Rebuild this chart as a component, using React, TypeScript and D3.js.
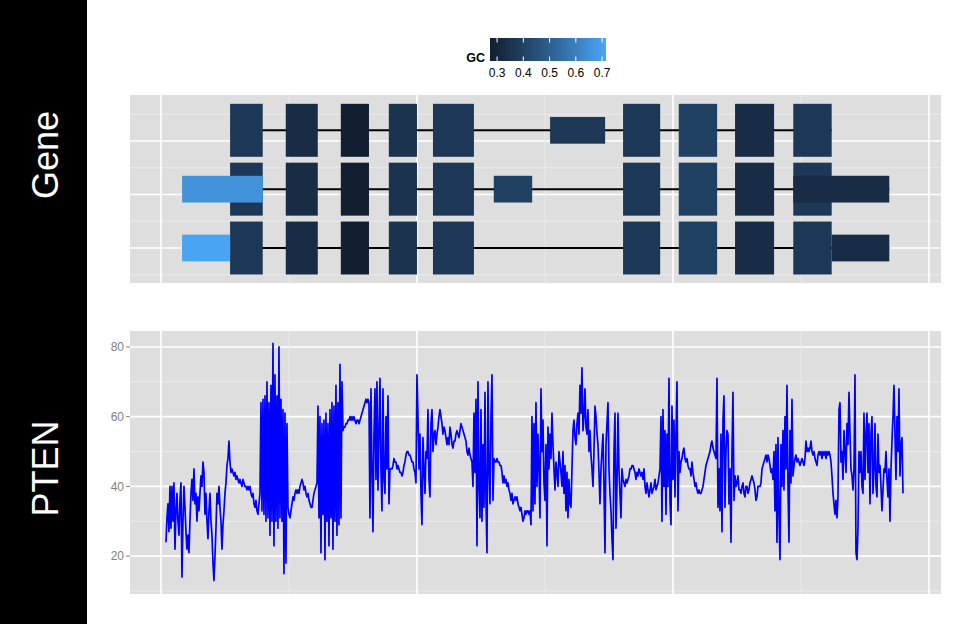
import React from 'react';
import * as d3 from 'd3';

// ---------- data ----------
// coverage / GC-content track values (%), one reading per step from start to end
const coverage: number[] = [
  24, 31, 35, 27, 40, 28, 40, 30, 41, 22,
  33, 38, 30, 26, 36, 41, 14, 30, 40, 34,
  27, 22, 26, 21, 30, 38, 42, 36, 45, 35,
  38, 30, 37, 33, 38, 43, 40, 47, 44, 32,
  38, 30, 25, 33, 38, 30, 26, 18, 13, 20,
  28, 38, 35, 40, 34, 30, 22, 29, 33, 38,
  41, 46, 48, 53, 47, 44, 45, 44, 43, 44,
  42, 43, 42, 41, 42, 41, 40, 42, 41, 40,
  40, 39, 40, 39, 40, 38, 37, 38, 35, 34,
  36, 33, 32, 35, 38, 64, 33, 65, 32, 66,
  30, 70, 31, 64, 26, 69, 30, 81, 23, 72,
  30, 66, 28, 80, 31, 65, 30, 62, 15, 61,
  18, 58, 34, 32, 31, 33, 35, 37, 36, 38,
  39, 38, 39, 38, 40, 41, 42, 41, 39, 40,
  38, 37, 38, 36, 35, 34, 34, 36, 38, 39,
  40, 41, 63, 31, 60, 21, 58, 32, 59, 19,
  61, 30, 58, 23, 62, 31, 64, 22, 63, 30,
  69, 26, 64, 29, 75, 31, 70, 56, 57, 57,
  58, 58, 59, 59, 60, 59, 60, 59, 60, 59,
  58, 59, 59, 58, 59, 60, 61, 62, 63, 64,
  65, 64, 65, 64, 31, 68, 45, 27, 55, 68,
  42, 70, 39, 55, 71, 45, 33, 68, 42, 38,
  60, 45, 66, 35, 45, 45, 45, 46, 48, 47,
  47, 45, 46, 45, 44, 44, 43, 44, 46, 47,
  49, 50, 50, 49, 49, 48, 47, 47, 45, 44,
  41, 72, 60, 45, 55, 38, 29, 54, 45, 38,
  50, 48, 62, 42, 37, 58, 62, 50, 55, 56,
  52, 55, 57, 60, 62, 60, 58, 55, 57, 56,
  54, 52, 54, 52, 57, 55, 52, 51, 53, 53,
  55, 56, 55, 54, 56, 58, 57, 56, 55, 54,
  53, 50, 49, 51, 49, 48, 47, 40, 61, 44,
  65, 23, 70, 40, 31, 62, 30, 52, 34, 67,
  36, 21, 70, 45, 35, 60, 72, 36, 48, 47,
  47, 48, 47, 47, 46, 46, 44, 41, 43, 41,
  42, 40, 41, 39, 38, 36, 38, 35, 36, 37,
  36, 37, 35, 34, 33, 34, 32, 30, 31, 33,
  32, 33, 33, 32, 33, 29, 60, 33, 58, 35,
  64, 40, 55, 45, 31, 68, 50, 59, 41, 36,
  52, 23, 57, 45, 55, 48, 61, 52, 45, 39,
  47, 44, 40, 50, 47, 44, 40, 50, 38, 46,
  33, 44, 31, 42, 35, 34, 45, 56, 59, 54,
  52, 58, 61, 55, 69, 61, 74, 56, 60, 68,
  57, 55, 62, 50, 56, 49, 45, 40, 50, 63,
  60, 55, 52, 44, 35, 45, 50, 55, 40, 21,
  52, 58, 64, 45, 38, 33, 25, 19, 50, 61,
  28, 40, 61, 45, 38, 31, 45, 42, 41, 40,
  42, 41, 42, 43, 45, 45, 46, 46, 45, 44,
  42, 44, 43, 45, 44, 43, 44, 42, 45, 40,
  38, 41, 39, 37, 39, 41, 38, 39, 40, 42,
  39, 40, 41, 43, 45, 60, 30, 62, 40, 56,
  32, 55, 40, 71, 36, 29, 63, 42, 59, 37,
  55, 70, 33, 50, 44, 47, 48, 50, 51, 48,
  47, 48, 46, 45, 45, 43, 47, 44, 42, 40,
  41, 39, 38, 39, 38, 38, 39, 40, 42, 44,
  46, 47, 48, 49, 50, 52, 53, 51, 50, 49,
  48, 71, 34, 45, 33, 55, 27, 59, 66, 34,
  50, 56, 55, 35, 45, 24, 50, 67, 36, 43,
  40, 41, 43, 39, 39, 38, 40, 41, 38, 37,
  40, 40, 38, 39, 41, 42, 43, 42, 41, 39,
  36, 37, 40, 40, 40, 41, 45, 46, 47, 48,
  49, 47, 49, 48, 46, 44, 45, 42, 50, 33,
  52, 24, 54, 32, 19, 52, 40, 56, 39, 60,
  45, 69, 40, 24, 56, 41, 65, 43, 46, 48,
  49, 47, 48, 47, 46, 47, 48, 47, 46, 48,
  53, 50, 51, 50, 51, 53, 50, 49, 50, 48,
  47, 46, 49, 50, 49, 50, 48, 50, 49, 50,
  48, 50, 49, 50, 49, 47, 43, 38, 35, 32,
  36, 31, 37, 62, 64, 47, 50, 42, 56, 50,
  44, 58, 52, 67, 55, 45, 43, 39, 45, 72,
  21, 19, 28, 50, 44, 50, 40, 38, 61, 42,
  55, 61, 44, 58, 35, 55, 60, 38, 45, 58,
  40, 37, 55, 44, 46, 40, 33, 39, 45, 44,
  50, 42, 37, 45, 30, 45, 53, 60, 69, 55,
  42, 60, 50, 68, 43, 52, 54, 38,
];
// genomic span of the coverage track (kb from a reference origin)
const covStartKb = 0.78;
const covEndKb = 115.94;

// axes
const covTicks = [20, 40, 60, 80];
const covMinor = [10, 30, 50, 70];
const xMajor = [0, 40, 80, 120];
const xMinor = [20, 60, 100];
const geneMajor = [1, 2, 3];
const geneMinor = [0.5, 1.5, 2.5, 3.5];

// transcripts (stacking level, start, end in kb)
const txLevel = [3.2, 2.1, 1.0];
const txStart = [10.8, 3.3, 3.3];
const txEnd = [104.8, 113.8, 113.8];

// exon features: transcript index, start, end (kb), kind, GC content
const featTx = [
  0, 0, 0, 0, 0, 0, 0, 0, 0, 0,
  1, 1, 1, 1, 1, 1, 1, 1, 1, 1, 1, 1,
  2, 2, 2, 2, 2, 2, 2, 2, 2, 2, 2,
];
const featStart = [
  10.8, 19.5, 28.1, 35.6, 42.5, 60.8, 72.2, 80.9, 89.7, 98.8,
  10.8, 19.5, 28.1, 35.6, 42.5, 52.0, 72.2, 80.9, 89.7, 98.8, 3.3, 98.8,
  10.8, 19.5, 28.1, 35.6, 42.5, 72.2, 80.9, 89.7, 98.8, 3.3, 104.8,
];
const featEnd = [
  15.9, 24.5, 32.5, 40.0, 48.9, 69.4, 78.0, 86.9, 95.8, 104.8,
  15.9, 24.5, 32.5, 40.0, 48.9, 58.0, 78.0, 86.9, 95.8, 104.8, 15.9, 113.8,
  15.9, 24.5, 32.5, 40.0, 48.9, 78.0, 86.9, 95.8, 104.8, 10.8, 113.8,
];
const featKind = [
  'cds', 'cds', 'cds', 'cds', 'cds', 'utr', 'cds', 'cds', 'cds', 'cds',
  'cds', 'cds', 'cds', 'cds', 'cds', 'utr', 'cds', 'cds', 'cds', 'cds', 'utr', 'utr',
  'cds', 'cds', 'cds', 'cds', 'cds', 'cds', 'cds', 'cds', 'cds', 'utr', 'utr',
];
const featGC = [
  0.37, 0.33, 0.275, 0.35, 0.37, 0.37, 0.37, 0.40, 0.33, 0.37,
  0.37, 0.33, 0.275, 0.35, 0.37, 0.40, 0.37, 0.40, 0.33, 0.37, 0.66, 0.33,
  0.37, 0.33, 0.275, 0.35, 0.37, 0.37, 0.40, 0.33, 0.37, 0.71, 0.33,
];

const gcLimits = [0.273, 0.715];
const gcTicks = [0.3, 0.4, 0.5, 0.6, 0.7];
const gcColors = ['#111e2f', '#4aa6f7'];

const trackLabels = ['Gene', 'PTEN'];

// ---------- layout ----------
const W = 960;
const H = 624;
const PANEL_L = 130;
const PANEL_R = 941;
const GENE_T = 95;
const GENE_B = 283;
const COV_T = 331;
const COV_B = 594;
const BG = '#dedede';
const MINOR = '#ebebeb';
const FONT = '"Liberation Sans", Arial, Helvetica, sans-serif';

export default function App() {
  const x = d3.scaleLinear().domain([-4.84, 121.88]).range([PANEL_L, PANEL_R]);
  const yGene = d3.scaleLinear().domain([0.346, 3.86]).range([GENE_B, GENE_T]);
  const yCov = d3.scaleLinear().domain([9.14, 84.57]).range([COV_B, COV_T]);
  const color = d3
    .scaleLinear<string>()
    .domain(gcLimits)
    .range(gcColors)
    .interpolate(d3.interpolateLab);

  const n = coverage.length;
  const step = (covEndKb - covStartKb) / (n - 1);
  const line = d3
    .line<number>()
    .x((_, i) => x(covStartKb + i * step))
    .y((d) => yCov(d));

  const featIdx = d3.range(featTx.length);
  const cdsIdx = featIdx.filter((i) => featKind[i] === 'cds');
  const utrIdx = featIdx.filter((i) => featKind[i] === 'utr');
  const halfH = (kind: string) => (kind === 'cds' ? 0.495 : 0.25);

  // legend
  const legX = d3.scaleLinear().domain(gcLimits).range([490, 606]);
  const legT = 38;
  const legB = 61;
  const stops = d3.range(0, 1.0001, 0.1);

  const vGrid = (top: number, bottom: number) => (
    <g>
      {xMinor.map((v) => (
        <line key={'m' + v} x1={x(v)} x2={x(v)} y1={top} y2={bottom} stroke={MINOR} strokeWidth={1} />
      ))}
      {xMajor.map((v) => (
        <line key={'M' + v} x1={x(v)} x2={x(v)} y1={top} y2={bottom} stroke="#ffffff" strokeWidth={1.6} />
      ))}
    </g>
  );

  return (
    <svg
      width={W}
      height={H}
      viewBox={`0 0 ${W} ${H}`}
      style={{ position: 'absolute', left: 0, top: 0, display: 'block', background: '#ffffff' }}
      fontFamily={FONT}
    >
      <defs>
        <linearGradient id="gcgrad" x1="0" x2="1" y1="0" y2="0">
          {stops.map((t) => (
            <stop
              key={t}
              offset={t}
              stopColor={color(gcLimits[0] + t * (gcLimits[1] - gcLimits[0]))}
            />
          ))}
        </linearGradient>
      </defs>
      <rect x={0} y={0} width={W} height={H} fill="#ffffff" />

      {/* left track label strip */}
      <rect x={0} y={0} width={87} height={H} fill="#000000" />
      <text
        transform={`translate(58, ${(GENE_T + GENE_B) / 2 - 34}) rotate(-90)`}
        textAnchor="middle"
        fill="#ffffff"
        fontSize={36}
      >
        {trackLabels[0]}
      </text>
      <text
        transform={`translate(58, ${(COV_T + COV_B) / 2 + 6}) rotate(-90)`}
        textAnchor="middle"
        fill="#ffffff"
        fontSize={36}
      >
        {trackLabels[1]}
      </text>

      {/* legend */}
      <text x={485} y={62} textAnchor="end" fontSize={12.5} fontWeight="bold" fill="#000000">
        GC
      </text>
      <rect x={legX(gcLimits[0])} y={legT} width={legX(gcLimits[1]) - legX(gcLimits[0])} height={legB - legT} fill="url(#gcgrad)" />
      {gcTicks.map((t) => (
        <g key={t}>
          <line x1={legX(t)} x2={legX(t)} y1={legT} y2={legT + 4.5} stroke="#ffffff" strokeWidth={1} />
          <line x1={legX(t)} x2={legX(t)} y1={legB - 4.5} y2={legB} stroke="#ffffff" strokeWidth={1} />
          <text x={legX(t)} y={77} textAnchor="middle" fontSize={12} fill="#000000">
            {t.toFixed(1)}
          </text>
        </g>
      ))}

      {/* gene panel */}
      <rect x={PANEL_L} y={GENE_T} width={PANEL_R - PANEL_L} height={GENE_B - GENE_T} fill={BG} />
      {geneMinor.map((v) => (
        <line key={'gm' + v} x1={PANEL_L} x2={PANEL_R} y1={yGene(v)} y2={yGene(v)} stroke={MINOR} strokeWidth={1} />
      ))}
      {geneMajor.map((v) => (
        <line key={'gM' + v} x1={PANEL_L} x2={PANEL_R} y1={yGene(v)} y2={yGene(v)} stroke="#ffffff" strokeWidth={1.6} />
      ))}
      {vGrid(GENE_T, GENE_B)}
      {txLevel.map((lv, t) => (
        <line
          key={'tx' + t}
          x1={x(txStart[t])}
          x2={x(txEnd[t])}
          y1={yGene(lv)}
          y2={yGene(lv)}
          stroke="#000000"
          strokeWidth={2}
        />
      ))}
      {[...cdsIdx, ...utrIdx].map((i) => {
        const lv = txLevel[featTx[i]];
        const h = halfH(featKind[i]);
        return (
          <rect
            key={'f' + i}
            x={x(featStart[i])}
            width={x(featEnd[i]) - x(featStart[i])}
            y={yGene(lv + h)}
            height={yGene(lv - h) - yGene(lv + h)}
            fill={color(featGC[i])}
          />
        );
      })}

      {/* coverage panel */}
      <rect x={PANEL_L} y={COV_T} width={PANEL_R - PANEL_L} height={COV_B - COV_T} fill={BG} />
      {covMinor.map((v) => (
        <line key={'cm' + v} x1={PANEL_L} x2={PANEL_R} y1={yCov(v)} y2={yCov(v)} stroke={MINOR} strokeWidth={1} />
      ))}
      {covTicks.map((v) => (
        <line key={'cM' + v} x1={PANEL_L} x2={PANEL_R} y1={yCov(v)} y2={yCov(v)} stroke="#ffffff" strokeWidth={1.6} />
      ))}
      {vGrid(COV_T, COV_B)}
      <path d={line(coverage) || ''} fill="none" stroke="#0000ff" strokeWidth={1.7} strokeLinejoin="round" />
      {covTicks.map((v) => (
        <g key={'ct' + v}>
          <line x1={PANEL_L - 4} x2={PANEL_L} y1={yCov(v)} y2={yCov(v)} stroke="#7f7f7f" strokeWidth={1} />
          <text x={PANEL_L - 6} y={yCov(v)} dy="0.35em" textAnchor="end" fontSize={12} fill="#7f7f7f">
            {v}
          </text>
        </g>
      ))}
    </svg>
  );
}
